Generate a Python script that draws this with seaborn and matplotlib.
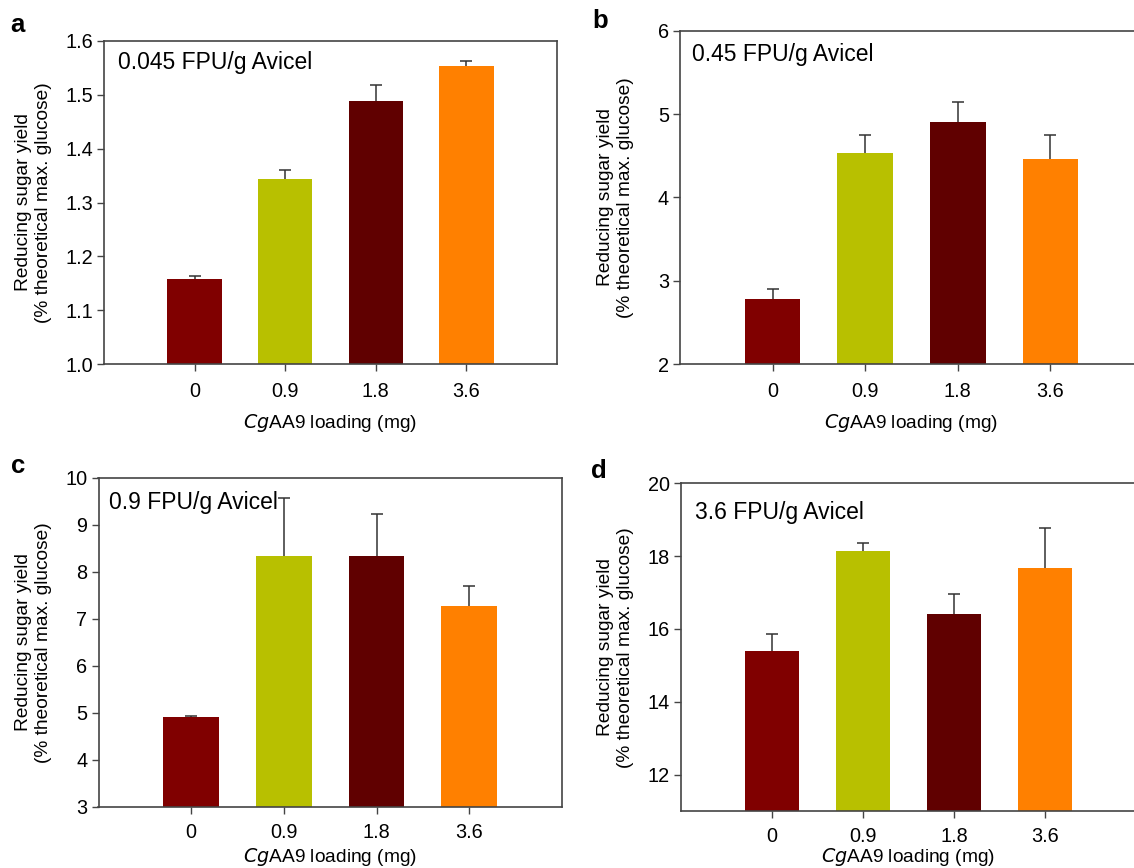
import matplotlib
matplotlib.use("Agg")
import matplotlib.pyplot as plt
import seaborn as sns
import pandas as pd
import numpy as np

sns.set_theme(style="white")
plt.rcParams['font.family'] = ['Liberation Sans', 'DejaVu Sans']

loadings = ["0", "0.9", "1.8", "3.6"]
colors = ["#800000", "#B8C000", "#600000", "#FF8000"]

panel_letters = ["a", "b", "c", "d"]
panel_titles = ["0.045 FPU/g Avicel", "0.45 FPU/g Avicel", "0.9 FPU/g Avicel", "3.6 FPU/g Avicel"]

yield_a = [1.158, 1.343, 1.488, 1.553]
err_a = [0.005, 0.017, 0.029, 0.010]
yield_b = [2.78, 4.53, 4.91, 4.46]
err_b = [0.12, 0.22, 0.23, 0.29]
yield_c = [4.90, 8.33, 8.33, 7.28]
err_c = [0.03, 1.24, 0.89, 0.41]
yield_d = [15.40, 18.15, 16.42, 17.68]
err_d = [0.47, 0.22, 0.55, 1.10]

ylims = [(1.0, 1.6), (2, 6), (3, 10), (11, 20)]
yticks = [[1.0, 1.1, 1.2, 1.3, 1.4, 1.5, 1.6], [2, 3, 4, 5, 6],
          [3, 4, 5, 6, 7, 8, 9, 10], [12, 14, 16, 18, 20]]
ytick_fmt = ["{:.1f}", "{:.0f}", "{:.0f}", "{:.0f}"]

values = [yield_a, yield_b, yield_c, yield_d]
errors = [err_a, err_b, err_c, err_d]

W, H = 1134, 868
fig = plt.figure(figsize=(W / 100, H / 100), dpi=100)

# axes rectangles in pixels: left, top, width, height
rects = [(104, 40.7, 453, 323.6),
         (680, 30.7, 463, 333.6),
         (98.5, 477.7, 463.5, 329),
         (681, 483.3, 455, 327.7)]
ylabel_right = [52, 634, 52, 634]
xlabel_y = [423, 423, 856.5, 856.5]
xtick_pad = [8, 8, 7, 6.5]
title_pos = [(117.5, 63), (691.5, 55), (109, 502), (695, 512)]
letter_pos = [(17, 31.5), (600, 28), (18, 473), (599, 478)]

spine_col = "#444444"

for i in range(4):
    l, t, w, h = rects[i]
    ax = fig.add_axes([l / W, 1 - (t + h) / H, w / W, h / H])
    df = pd.DataFrame({"loading": loadings, "value": values[i]})
    sns.barplot(data=df, x="loading", y="value", hue="loading", palette=colors,
                width=0.6, saturation=1, legend=False, ax=ax, errorbar=None,
                linewidth=0)
    for p in ax.patches:
        p.set_zorder(3)
    ax.errorbar(np.arange(4), values[i], yerr=errors[i], fmt="none",
                ecolor="#333333", elinewidth=1.1, capsize=4, capthick=1.1, zorder=2)
    ax.set_xlim(-1, 4)
    ax.set_ylim(*ylims[i])
    ax.set_yticks(yticks[i])
    ax.set_yticklabels([ytick_fmt[i].format(v) for v in yticks[i]])
    for s in ax.spines.values():
        s.set_visible(True)
        s.set_color(spine_col)
        s.set_linewidth(1.2)
        s.set_zorder(4)
    ax.tick_params(axis="y", direction="out", length=5, width=1, color=spine_col,
                   labelsize=14.3, pad=3, left=True, labelcolor="black")
    ax.tick_params(axis="x", direction="out", length=5, width=1, color=spine_col,
                   labelsize=14.3, pad=xtick_pad[i], bottom=True, labelcolor="black")
    ax.set_ylabel("Reducing sugar yield\n(% theoretical max. glucose)", fontsize=13.8,
                  color="black", linespacing=1.2)
    ax.yaxis.set_label_coords((ylabel_right[i] - l) / w, 0.5)
    ax.set_xlabel("")
    fig.text((l + w / 2) / W, 1 - xlabel_y[i] / H, r"$\it{Cg}$AA9 loading (mg)",
             ha="center", va="center", fontsize=13.8, color="black")
    ax.grid(False)
    fig.text(title_pos[i][0] / W, 1 - title_pos[i][1] / H, panel_titles[i],
             ha="left", va="center", fontsize=16.5, color="black")
    fig.text(letter_pos[i][0] / W, 1 - letter_pos[i][1] / H, panel_letters[i],
             ha="center", va="baseline", fontsize=18.5, fontweight="bold", color="black")

fig.savefig("out.png", dpi=100)
